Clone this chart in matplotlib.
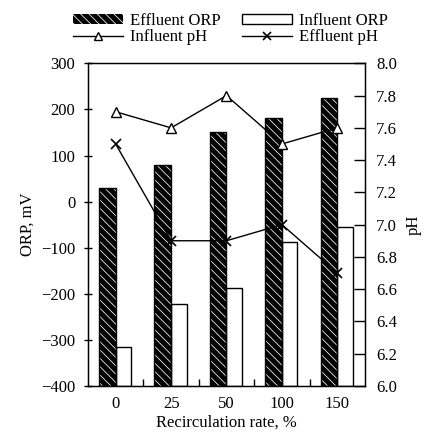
import matplotlib
matplotlib.use("Agg")
import matplotlib.pyplot as plt
import numpy as np
from matplotlib.patches import Patch
from matplotlib.lines import Line2D

plt.rcParams['font.family'] = ['Liberation Serif', 'DejaVu Serif']
plt.rcParams['hatch.color'] = 'white'
plt.rcParams['hatch.linewidth'] = 0.55

# Data
rates = ['0', '25', '50', '100', '150']
effluent_orp = [30, 80, 152, 182, 225]
influent_orp = [-315, -222, -187, -87, -55]
influent_ph = [7.7, 7.6, 7.8, 7.5, 7.6]
effluent_ph = [7.5, 6.9, 6.9, 7.0, 6.7]

FS = 12
HATCH = '\\' * 4

fig = plt.figure(figsize=(4.31, 4.37), dpi=100)
ax = fig.add_axes([0.204, 0.117, 0.643, 0.738])

x = np.arange(len(rates))
w = 0.3
base = -400  # bars rise from the axis floor

# Effluent ORP: black bars with white diagonal hatching
ax.bar(x - w / 2, np.array(effluent_orp) - base, width=w, bottom=base,
       facecolor='black', edgecolor='white', hatch=HATCH, linewidth=0, zorder=2)
ax.bar(x - w / 2, np.array(effluent_orp) - base, width=w, bottom=base,
       fill=False, edgecolor='black', linewidth=1.0, zorder=3)
# Influent ORP: open bars
ax.bar(x + 0.14, np.array(influent_orp) - base, width=0.28, bottom=base,
       facecolor='white', edgecolor='black', linewidth=1.0, zorder=2)

ax.set_xlim(-0.5, 4.5)
ax.set_ylim(-400, 300)
ax.set_yticks(np.arange(-400, 301, 100))
ax.set_xticks(x)
ax.set_xticklabels(rates)
ax.set_xticks(np.arange(0.5, 4.5, 1.0), minor=True)
ax.tick_params(axis='x', which='major', length=0, labelsize=FS, pad=7)
ax.tick_params(axis='x', which='minor', direction='in', length=5, width=1)
ax.tick_params(axis='y', direction='inout', length=6, width=1, labelsize=FS, pad=6)
ax.set_ylabel('ORP, mV', fontsize=FS, labelpad=4)
ax.set_xlabel('Recirculation rate, %', fontsize=FS, labelpad=2)
for s in ax.spines.values():
    s.set_linewidth(1.0)

ax2 = ax.twinx()
ax2.plot(x, influent_ph, color='black', lw=1.0, marker='^', ms=7,
         mfc='white', mec='black', mew=1.0, zorder=4)
ax2.plot(x, effluent_ph, color='black', lw=1.0, marker='x', ms=7,
         mew=1.2, zorder=4)
ax2.set_ylim(6.0, 8.0)
ax2.set_yticks(np.arange(6.0, 8.01, 0.2))
ax2.yaxis.set_major_formatter(matplotlib.ticker.FormatStrFormatter('%.1f'))
ax2.tick_params(axis='y', direction='in', length=8, width=1, labelsize=FS, pad=8)
ax2.set_ylabel('pH', fontsize=FS, labelpad=6)

handles = [
    Patch(facecolor='black', edgecolor='white', hatch=HATCH, linewidth=0),
    Line2D([], [], color='black', lw=1.0, marker='^', ms=6, mfc='white', mec='black'),
    Patch(facecolor='white', edgecolor='black', linewidth=1.0),
    Line2D([], [], color='black', lw=1.0, marker='x', ms=6, mew=1.2),
]
labels = ['Effluent ORP', 'Influent pH', 'Influent ORP', 'Effluent pH']
fig.legend(handles, labels, ncol=2, loc='upper center', bbox_to_anchor=(0.535, 0.997),
           frameon=False, fontsize=FS, handlelength=3.0, handleheight=0.55,
           handletextpad=0.4, columnspacing=1.3, labelspacing=0.02, borderpad=0.2)

fig.savefig('out.png', dpi=100)
